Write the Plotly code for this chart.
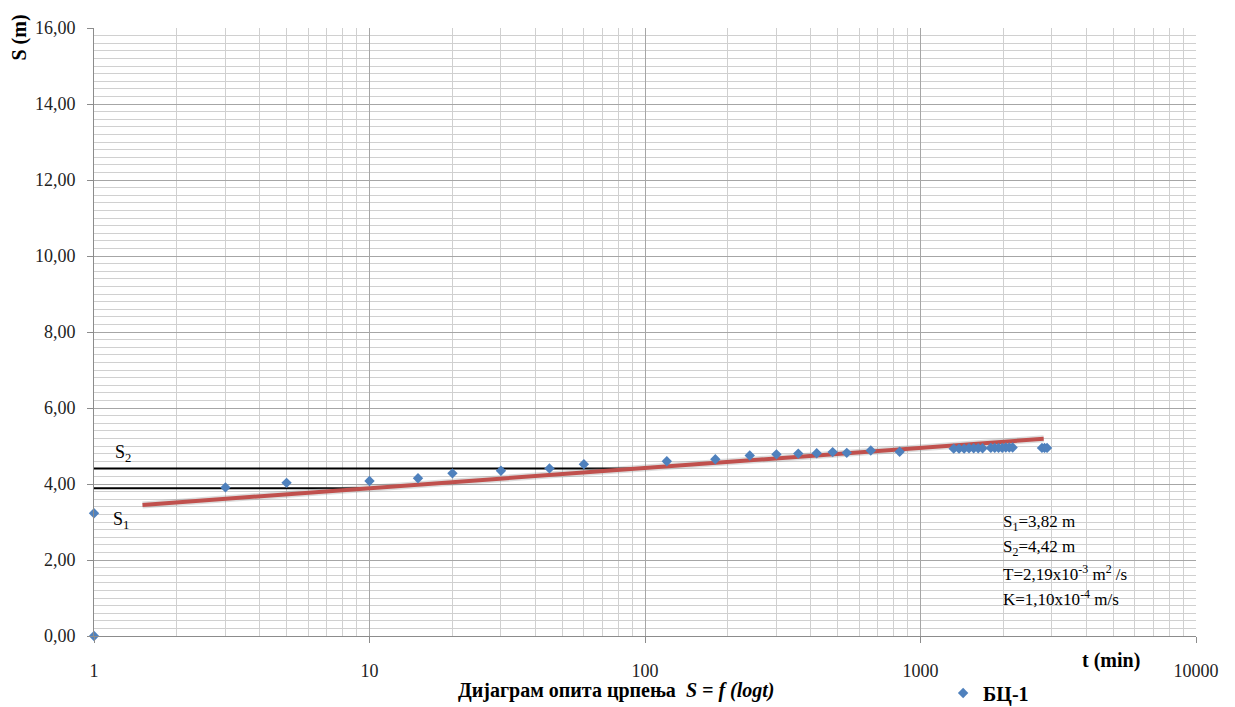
import plotly.graph_objects as go

# ---- data ----
t_min = [1, 1, 3, 5, 10, 15, 20, 30, 45, 60, 120, 180, 240, 300, 360, 420, 480, 540, 660, 840,
         1320, 1380, 1440, 1500, 1560, 1620, 1680,
         1800, 1860, 1920, 1980, 2040, 2100, 2160,
         2760, 2820, 2880]
s_m = [0.00, 3.23, 3.91, 4.03, 4.08, 4.15, 4.28, 4.35, 4.41, 4.52, 4.60, 4.65, 4.75, 4.78, 4.80, 4.81, 4.84, 4.82, 4.88, 4.85,
       4.93, 4.93, 4.93, 4.94, 4.94, 4.94, 4.94,
       4.95, 4.95, 4.95, 4.95, 4.96, 4.96, 4.96,
       4.95, 4.95, 4.95]

trend_t = [1.5, 2800]
trend_s = [3.45, 5.19]

s1_t = [1, 10]
s1_s = [3.89, 3.89]
s2_t = [1, 100]
s2_s = [4.41, 4.41]

x_tickvals = [1, 10, 100, 1000, 10000]
x_ticktext = ["1", "10", "100", "1000", "10000"]

series_name = "БЦ-1"

FONT = "Liberation Serif"
MAJOR = "#a6a6a6"
MINOR = "#d0d0d0"

# page body margin is removed by post_script, so figure fills the window
W, H = 1235, 707
PL, PR, PT, PB = 93.5, 1196, 28, 636


def px(x):
    return (x - PL) / (PR - PL)


def py(y):
    return (PB - y) / (PB - PT)


fig = go.Figure()

fig.add_trace(go.Scatter(x=s2_t, y=s2_s, mode="lines", line=dict(color="black", width=2),
                         showlegend=False, hoverinfo="skip"))
fig.add_trace(go.Scatter(x=s1_t, y=s1_s, mode="lines", line=dict(color="black", width=2),
                         showlegend=False, hoverinfo="skip"))
fig.add_trace(go.Scatter(x=trend_t, y=trend_s, mode="lines", line=dict(color="rgba(120,120,120,0.25)", width=7),
                         showlegend=False, hoverinfo="skip"))
fig.add_trace(go.Scatter(x=trend_t, y=trend_s, mode="lines", line=dict(color="#c0504d", width=4),
                         showlegend=False, hoverinfo="skip"))
fig.add_trace(go.Scatter(x=t_min, y=s_m, mode="markers", name=series_name, cliponaxis=False,
                         marker=dict(symbol="diamond", size=8, color="#4f81bd")))

fig.update_xaxes(type="log", range=[0, 4], tickvals=x_tickvals, ticktext=x_ticktext,
                 automargin=False,
                 showgrid=True, gridcolor=MAJOR, gridwidth=1,
                 minor=dict(dtick="D1", showgrid=True, gridcolor=MINOR, gridwidth=1, ticks=""),
                 showline=True, linecolor="#8c8c8c", linewidth=1,
                 ticks="outside", ticklen=6, tickcolor="#8c8c8c",
                 ticklabelstandoff=12,
                 tickfont=dict(family=FONT, size=18, color="#222"), zeroline=False)
fig.update_yaxes(range=[0, 16], dtick=2, tickformat=".2f",
                 automargin=False,
                 showgrid=True, gridcolor=MAJOR, gridwidth=1,
                 minor=dict(dtick=0.2, showgrid=True, gridcolor=MINOR, gridwidth=1, ticks=""),
                 showline=True, linecolor="#8c8c8c", linewidth=1,
                 ticks="outside", ticklen=6, tickcolor="#8c8c8c",
                 ticklabelstandoff=8,
                 tickfont=dict(family=FONT, size=18, color="#222"), zeroline=False)

ann = []
ann.append(dict(xref="paper", yref="paper", x=px(18), y=py(38), text="<b>S (m)</b>", textangle=-90,
                showarrow=False, xanchor="center", yanchor="middle",
                font=dict(family=FONT, size=20, color="black")))
ann.append(dict(xref="paper", yref="paper", x=px(1111), y=py(660),
                text="<b>t (min)</b>", showarrow=False, xanchor="center", yanchor="middle",
                font=dict(family=FONT, size=20, color="black")))
ann.append(dict(xref="paper", yref="paper", x=px(616), y=py(690),
                text="<b>Дијаграм опита црпења</b>  <b><i>S = f (logt)</i></b>", showarrow=False,
                xanchor="center", yanchor="middle",
                font=dict(family=FONT, size=20, color="black")))
ann.append(dict(xref="paper", yref="paper", x=px(113), y=py(454),
                text="S<sub>2</sub>", showarrow=False, xanchor="left", yanchor="middle",
                font=dict(family=FONT, size=18, color="black")))
ann.append(dict(xref="paper", yref="paper", x=px(111), y=py(520),
                text="S<sub>1</sub>", showarrow=False, xanchor="left", yanchor="middle",
                font=dict(family=FONT, size=18, color="black")))
info_lines = ["S<sub>1</sub>=3,82 m", "S<sub>2</sub>=4,42 m",
              "T=2,19x10<sup>-3</sup> m<sup>2</sup> /s", "K=1,10x10<sup>-4</sup> m/s"]
for i, txt in enumerate(info_lines):
    ann.append(dict(xref="paper", yref="paper", x=px(1001), y=py(523 + 25 * i),
                    text=txt, showarrow=False, xanchor="left", yanchor="middle",
                    font=dict(family=FONT, size=17, color="black")))

fig.update_layout(
    width=W, height=H,
    margin=dict(l=PL, r=W - PR, t=PT, b=H - PB, autoexpand=False),
    paper_bgcolor="white", plot_bgcolor="white",
    separators=",.",
    font=dict(family=FONT),
    showlegend=True,
    legend=dict(orientation="h", xref="paper", yref="paper", x=px(943), y=py(693),
                xanchor="left", yanchor="middle", bgcolor="rgba(0,0,0,0)",
                font=dict(family=FONT, size=20, color="black", weight="bold"), itemwidth=30),
    annotations=ann,
)

fig.write_html("out.html", config={"displayModeBar": False},
               post_script="document.body.style.margin='0';document.body.style.overflow='hidden';")
